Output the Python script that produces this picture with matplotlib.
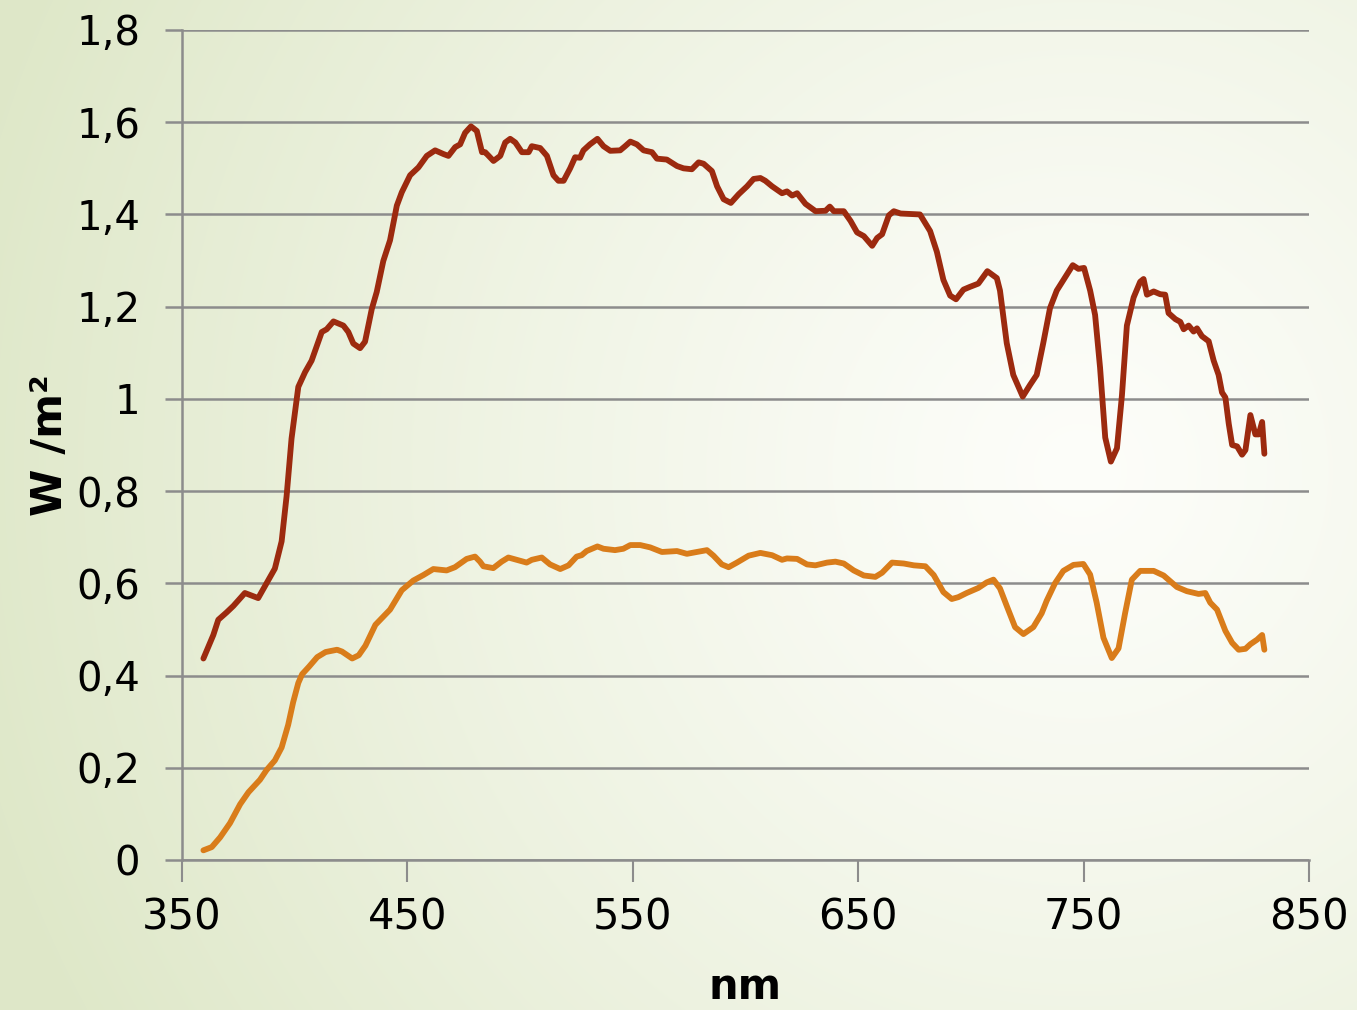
import numpy as np
import matplotlib
matplotlib.use("Agg")
import matplotlib.pyplot as plt

# spectral irradiance, W/m2 per nm
nm_high = [359.5, 363.9, 366.1, 369.8, 372.8, 377.9, 381.6, 383.8, 387.5, 391.2,
           394.2, 396.4, 398.6, 401.6, 404.6, 407.5, 412.0, 414.2, 417.2, 421.6,
           423.8, 426.0, 429.0, 431.2, 434.2, 436.4, 439.3, 442.3, 445.3, 447.5,
           451.2, 454.9, 458.6, 462.3, 466.0, 468.2, 471.2, 473.4, 475.6, 478.2,
           480.8, 483.1, 484.5, 488.2, 491.2, 493.4, 495.6, 497.9, 500.8, 503.8,
           505.2, 508.9, 511.9, 514.8, 517.0, 519.3, 522.2, 524.4, 526.6, 528.1,
           531.0, 534.3, 537.0, 540.0, 544.4, 546.6, 548.9, 551.8, 554.8, 558.5,
           560.7, 565.1, 569.6, 572.5, 576.2, 579.2, 581.4, 585.1, 587.4, 590.3,
           593.5, 597.0, 600.7, 603.6, 606.6, 608.8, 611.8, 616.2, 618.4, 620.7,
           622.9, 626.6, 631.1, 635.5, 637.4, 639.2, 643.6, 646.6, 649.5, 652.5,
           656.2, 658.4, 660.6, 663.6, 665.8, 668.8, 672.9, 677.4, 681.9, 684.9,
           687.8, 690.8, 693.4, 696.7, 699.6, 703.3, 707.3, 711.5, 712.9, 715.9,
           718.8, 723.0, 726.2, 729.2, 732.1, 735.1, 738.1, 742.5, 745.2, 747.7,
           750.2, 752.9, 755.1, 757.3, 759.6, 762.1, 764.8, 767.0, 769.2, 772.2,
           775.1, 776.6, 778.1, 781.1, 784.0, 786.2, 787.7, 790.7, 792.9, 794.4,
           796.6, 798.8, 800.3, 802.5, 805.5, 807.7, 809.9, 811.4, 812.9, 814.4,
           815.9, 818.1, 820.3, 821.8, 824.0, 826.2, 827.7, 829.2, 830.2]
w_high = [0.437, 0.488, 0.521, 0.537, 0.551, 0.579, 0.572, 0.568, 0.600, 0.632,
          0.691, 0.789, 0.914, 1.026, 1.058, 1.083, 1.145, 1.151, 1.168, 1.159,
          1.145, 1.120, 1.110, 1.124, 1.195, 1.232, 1.299, 1.344, 1.419, 1.448,
          1.485, 1.502, 1.527, 1.539, 1.531, 1.527, 1.546, 1.552, 1.577, 1.591,
          1.581, 1.535, 1.535, 1.516, 1.527, 1.556, 1.564, 1.556, 1.535, 1.535,
          1.548, 1.544, 1.527, 1.485, 1.473, 1.473, 1.500, 1.524, 1.523, 1.539,
          1.552, 1.564, 1.548, 1.538, 1.539, 1.548, 1.558, 1.552, 1.539, 1.535,
          1.521, 1.519, 1.505, 1.500, 1.498, 1.513, 1.510, 1.494, 1.461, 1.433,
          1.425, 1.444, 1.461, 1.477, 1.479, 1.473, 1.461, 1.446, 1.450, 1.441,
          1.446, 1.423, 1.407, 1.408, 1.417, 1.407, 1.407, 1.386, 1.361, 1.353,
          1.332, 1.349, 1.357, 1.398, 1.407, 1.402, 1.401, 1.400, 1.364, 1.319,
          1.258, 1.224, 1.216, 1.237, 1.243, 1.250, 1.277, 1.262, 1.235, 1.121,
          1.052, 1.005, 1.030, 1.052, 1.121, 1.197, 1.235, 1.269, 1.290, 1.282,
          1.284, 1.235, 1.182, 1.068, 0.916, 0.864, 0.893, 1.007, 1.159, 1.220,
          1.254, 1.260, 1.226, 1.233, 1.227, 1.226, 1.186, 1.173, 1.167, 1.151,
          1.159, 1.146, 1.153, 1.136, 1.125, 1.083, 1.052, 1.014, 1.003, 0.946,
          0.900, 0.897, 0.879, 0.889, 0.965, 0.923, 0.923, 0.950, 0.881]

nm_low = [359.5, 363.2, 366.9, 371.3, 375.8, 379.5, 384.6, 387.5, 391.2, 394.2,
          397.1, 399.3, 401.6, 403.3, 406.3, 410.0, 413.7, 418.8, 421.0, 425.5,
          428.4, 431.4, 435.8, 442.3, 447.5, 452.6, 457.1, 461.5, 467.4, 471.1,
          476.3, 480.0, 482.2, 483.7, 488.1, 491.8, 494.8, 498.5, 502.9, 505.2,
          509.6, 513.3, 517.8, 521.5, 525.1, 527.3, 529.5, 534.3, 537.0, 542.1,
          545.8, 548.9, 553.3, 557.7, 562.9, 569.6, 574.0, 578.4, 582.9, 585.8,
          589.5, 592.5, 596.2, 601.4, 606.6, 611.8, 616.2, 618.4, 622.9, 627.3,
          631.0, 636.2, 639.9, 643.6, 648.0, 652.5, 657.6, 660.6, 665.0, 670.2,
          674.7, 679.8, 683.5, 687.8, 691.5, 694.4, 698.1, 703.3, 707.0, 710.0,
          712.9, 715.9, 719.6, 723.3, 727.7, 731.4, 733.6, 737.3, 741.0, 745.5,
          749.9, 752.9, 755.8, 758.8, 762.5, 765.5, 768.4, 771.4, 775.1, 781.1,
          785.5, 791.4, 795.8, 801.0, 804.0, 806.2, 809.2, 812.9, 815.9, 818.8,
          821.8, 824.0, 827.0, 829.2, 830.2]
w_low = [0.021, 0.028, 0.049, 0.080, 0.121, 0.147, 0.174, 0.195, 0.216, 0.244,
         0.293, 0.342, 0.384, 0.403, 0.419, 0.440, 0.451, 0.456, 0.452, 0.437,
         0.444, 0.465, 0.510, 0.543, 0.585, 0.606, 0.618, 0.631, 0.628, 0.635,
         0.653, 0.658, 0.647, 0.637, 0.633, 0.647, 0.656, 0.651, 0.645, 0.651,
         0.656, 0.641, 0.631, 0.639, 0.658, 0.661, 0.670, 0.680, 0.675, 0.672,
         0.675, 0.683, 0.683, 0.678, 0.668, 0.670, 0.664, 0.668, 0.672, 0.660,
         0.641, 0.635, 0.645, 0.660, 0.666, 0.661, 0.651, 0.654, 0.653, 0.641,
         0.639, 0.645, 0.647, 0.643, 0.628, 0.617, 0.614, 0.623, 0.645, 0.643,
         0.639, 0.637, 0.618, 0.581, 0.566, 0.570, 0.579, 0.590, 0.602, 0.608,
         0.589, 0.551, 0.505, 0.490, 0.505, 0.535, 0.562, 0.600, 0.627, 0.640,
         0.642, 0.619, 0.558, 0.482, 0.438, 0.459, 0.535, 0.608, 0.627, 0.627,
         0.617, 0.592, 0.583, 0.577, 0.579, 0.558, 0.543, 0.497, 0.471, 0.456,
         0.458, 0.468, 0.478, 0.488, 0.456]

x_ticks = [350, 450, 550, 650, 750, 850]
y_ticks = [0, 0.2, 0.4, 0.6, 0.8, 1.0, 1.2, 1.4, 1.6, 1.8]
y_labels = ["0", "0,2", "0,4", "0,6", "0,8", "1", "1,2", "1,4", "1,6", "1,8"]

RED = "#9c2a0f"
ORANGE = "#d97c1a"
GRID = "#8c8c8c"

fig = plt.figure(figsize=(13.57, 10.1), dpi=100)

# soft green-to-white backdrop
bg = fig.add_axes([0, 0, 1, 1], zorder=0)
gy, gx = np.mgrid[0:1010, 0:1357]
r = np.hypot(gx - 1080, gy - 470) / 1150.0
r = np.clip(r, 0, 1) ** 1.2
c0 = np.array([0.992, 0.994, 0.980])
c1 = np.array([0.872, 0.908, 0.785])
img = c0[None, None, :] * (1 - r[..., None]) + c1[None, None, :] * r[..., None]
bg.imshow(img, aspect="auto", extent=[0, 1, 0, 1], origin="upper")
bg.axis("off")

ax = fig.add_axes([182 / 1357, 150 / 1010, 1127 / 1357, 830 / 1010], zorder=1)
ax.patch.set_alpha(0)

line_kw = dict(lw=4.2, solid_capstyle="round", solid_joinstyle="round", zorder=3)
ax.plot(nm_high, w_high, color=RED, **line_kw)
ax.plot(nm_low, w_low, color=ORANGE, **line_kw)

ax.set_xlim(350, 850)
ax.set_ylim(0, 1.8)
ax.set_xticks(x_ticks)
ax.set_xticklabels([str(t) for t in x_ticks], fontsize=30)
ax.set_yticks(y_ticks)
ax.set_yticklabels(y_labels, fontsize=29)
ax.yaxis.grid(True, color=GRID, lw=1.8)
ax.set_axisbelow(True)

for s in ["top", "right"]:
    ax.spines[s].set_visible(False)
for s in ["left", "bottom"]:
    ax.spines[s].set_color(GRID)
    ax.spines[s].set_linewidth(1.8)
ax.tick_params(axis="x", length=16, width=1.5, color=GRID, pad=10)
ax.tick_params(axis="y", length=12, width=1.8, color=GRID, pad=18)

ax.set_ylabel("W /m²", fontsize=31, fontweight="bold", labelpad=4)
fig.text(745 / 1357, 2 / 1010, "nm", fontsize=30, fontweight="bold",
         ha="center", va="bottom")

fig.savefig("out.png", dpi=100)
